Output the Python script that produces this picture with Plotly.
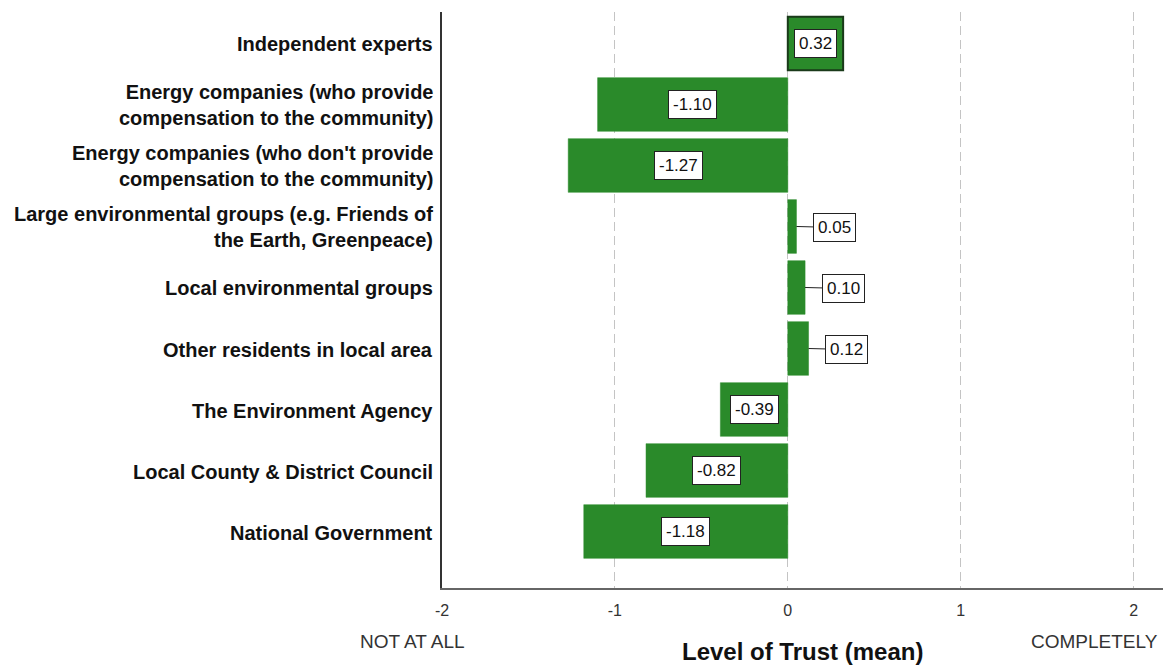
import plotly.graph_objects as go

categories = [
    "Independent experts",
    "Energy companies (who provide<br>compensation to the community)",
    "Energy companies (who don't provide<br>compensation to the community)",
    "Large environmental groups (e.g. Friends of<br>the Earth, Greenpeace)",
    "Local environmental groups",
    "Other residents in local area",
    "The Environment Agency",
    "Local County & District Council",
    "National Government",
]
trust_mean = [0.32, -1.10, -1.27, 0.05, 0.10, 0.12, -0.39, -0.82, -1.18]
tick_values = [-2, -1, 0, 1, 2]
tick_labels = ["-2", "-1", "0", "1", "2"]

FONT = "Liberation Sans, Arial, sans-serif"
GREEN = "#2a8a2a"

fig = go.Figure()

fig.add_trace(go.Bar(
    x=trust_mean,
    y=categories,
    orientation="h",
    width=0.88,
    marker=dict(
        color=GREEN,
        line=dict(
            color=["#1a3a1a"] + [GREEN] * (len(trust_mean) - 1),
            width=[2] + [0.5] * (len(trust_mean) - 1),
        ),
    ),
    hoverinfo="skip",
))

# value boxes: inside the bar when there's room, else outside with a leader line
for cat, v in zip(categories, trust_mean):
    box = dict(
        text=f"{v:.2f}",
        y=cat,
        font=dict(family=FONT, size=17, color="#111"),
        bgcolor="white",
        bordercolor="#222",
        borderwidth=1,
        borderpad=4,
    )
    if abs(v) >= 0.2:
        fig.add_annotation(x=v / 2, showarrow=False, **box)
    else:
        fig.add_annotation(x=v, showarrow=True, arrowhead=0, arrowwidth=1,
                           arrowcolor="#222", ax=38, ay=1, **box)

# category labels at the left of the axis
for cat in categories:
    fig.add_annotation(
        text=cat,
        xref="paper", x=0, xanchor="right", xshift=-7,
        y=cat, yanchor="middle", yshift=-1,
        align="right",
        showarrow=False,
        font=dict(family=FONT, size=20, color="#111", weight="bold"),
    )

fig.add_annotation(text="NOT AT ALL", xref="paper", yref="paper", x=0, y=0,
                   xanchor="center", yanchor="middle", xshift=-30, yshift=-53,
                   showarrow=False, font=dict(family=FONT, size=19, color="#333"))
fig.add_annotation(text="COMPLETELY", xref="paper", yref="paper", x=1, y=0,
                   xanchor="right", yanchor="middle", xshift=-3, yshift=-53,
                   showarrow=False, font=dict(family=FONT, size=19, color="#333"))
fig.add_annotation(text="Level of Trust (mean)", xref="paper", yref="paper", x=0.5, y=0,
                   xanchor="center", yanchor="middle", yshift=-63,
                   showarrow=False,
                   font=dict(family=FONT, size=24, color="#111", weight="bold"))

fig.update_layout(
    width=1163,
    height=666,
    margin=dict(l=442, r=0, t=12, b=78),
    plot_bgcolor="white",
    paper_bgcolor="white",
    showlegend=False,
    xaxis=dict(
        range=[-2, 2.17],
        tickvals=tick_values,
        ticktext=tick_labels,
        tickfont=dict(family=FONT, size=16, color="#333"),
        ticks="",
        ticklabelstandoff=7,
        showgrid=True,
        gridcolor="#c4c4c4",
        griddash="9px,5px",
        gridwidth=1,
        zeroline=False,
        showline=True,
        linecolor="#666",
        linewidth=1.5,
        fixedrange=True,
    ),
    yaxis=dict(
        categoryorder="array",
        categoryarray=categories,
        range=[8.926, -0.516],
        showticklabels=False,
        ticks="",
        showgrid=False,
        zeroline=False,
        showline=True,
        linecolor="#333",
        linewidth=1.5,
        fixedrange=True,
    ),
)

fig.write_html("out.html", config={"displayModeBar": False},
               post_script="document.body.style.margin='0';")
